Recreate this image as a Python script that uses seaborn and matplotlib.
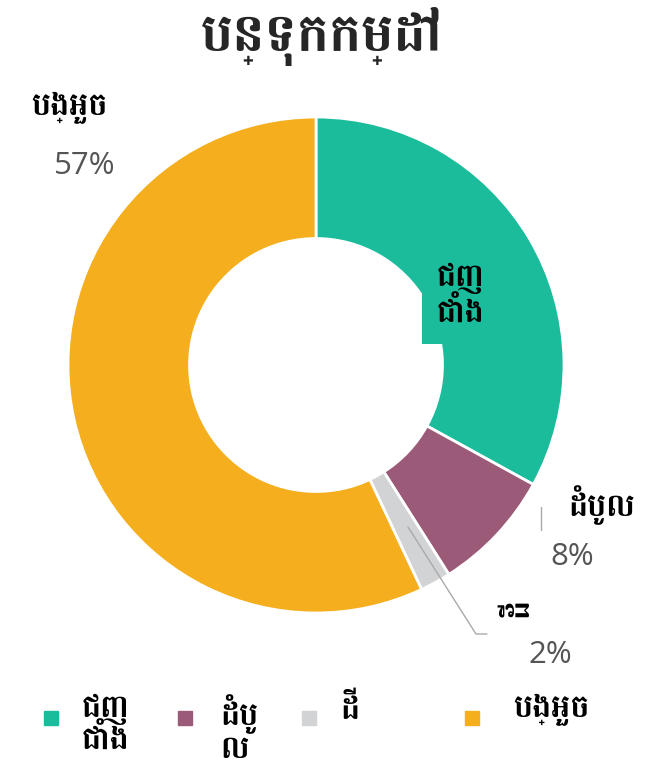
import matplotlib
matplotlib.use("Agg")
import matplotlib.pyplot as plt
from matplotlib.lines import Line2D
import seaborn as sns

# --- data ---
title = "បន្ទុកកម្ដៅ"
categories = ["ជញ្ជាំង", "ដំបូល", "ដី", "បង្អួច"]
legend_labels = ["ជញ\nជាំង", "ដំបូ\nល", "ដី", "បង្អួច"]
shares = [33, 8, 2, 57]
colors = ["#1abc9c", "#9b5a78", "#d2d3d5", "#f5ae1e"]

sns.set_theme(style="white")
plt.rcParams["font.family"] = ["Open Sans", "Battambang", "DejaVu Sans"]
KH = ["Battambang", "DejaVu Sans"]

fig = plt.figure(figsize=(6.67, 7.64), dpi=100)
W, H = 667, 764


def fx(px):
    return px / W


def fy(py):
    return 1 - py / H


cx, cy, r = 316, 365, 248
ax = fig.add_axes([fx(cx - r), fy(cy + r), 2 * r / W, 2 * r / H])

wedges, _ = ax.pie(
    shares,
    colors=colors,
    startangle=90,
    counterclock=False,
    radius=1,
    wedgeprops=dict(width=0.49, edgecolor="white", linewidth=2),
)
ax.set_xlim(-1, 1)
ax.set_ylim(-1, 1)
ax.set_aspect("equal")
ax.axis("off")

fig.text(fx(322), fy(36), title, ha="center", va="center", fontsize=39,
         fontweight="bold", family=KH)

lab_kw = dict(fontsize=23, fontweight="bold", color="black", family=KH)
pct_kw = dict(fontsize=22.5, color="#555555", family=["Open Sans", "DejaVu Sans"])

# window (outside, top-left)
fig.text(fx(70), fy(108), categories[3], ha="center", va="center", **lab_kw)
fig.text(fx(85), fy(166), f"{shares[3]}%", ha="center", va="center", **pct_kw)

# walls (inside slice)
fig.text(fx(461), fy(296), "ជញ\nជាំង", ha="center", va="center", linespacing=1.15,
         bbox=dict(facecolor=colors[0], edgecolor="none", pad=11), **lab_kw)

# roof
fig.text(fx(602), fy(505), categories[1], ha="center", va="center", **lab_kw)
fig.text(fx(572), fy(557), f"{shares[1]}%", ha="center", va="center", **pct_kw)
fig.add_artist(Line2D([fx(541), fx(541)], [fy(507), fy(530)], color="#aaaaaa", lw=1))

# floor
fig.text(fx(518), fy(607), categories[2], ha="center", va="center", rotation=90, **lab_kw)
fig.text(fx(550), fy(655), f"{shares[2]}%", ha="center", va="center", **pct_kw)
fig.add_artist(Line2D([fx(408), fx(476), fx(487)], [fy(527), fy(634), fy(634)],
                      color="#aaaaaa", lw=1))

# legend
marker_x = [51, 185, 309, 472]
text_x = [82, 220, 340, 513]
for lab, c, mx, tx in zip(legend_labels, colors, marker_x, text_x):
    fig.add_artist(Line2D([fx(mx)], [fy(718)], marker="s", markersize=9.5,
                          markerfacecolor=c, markeredgecolor=c, linestyle="none"))
    fig.text(fx(tx), fy(694), lab, ha="left", va="top", linespacing=1.0, **lab_kw)

fig.savefig("out.png", dpi=100)
